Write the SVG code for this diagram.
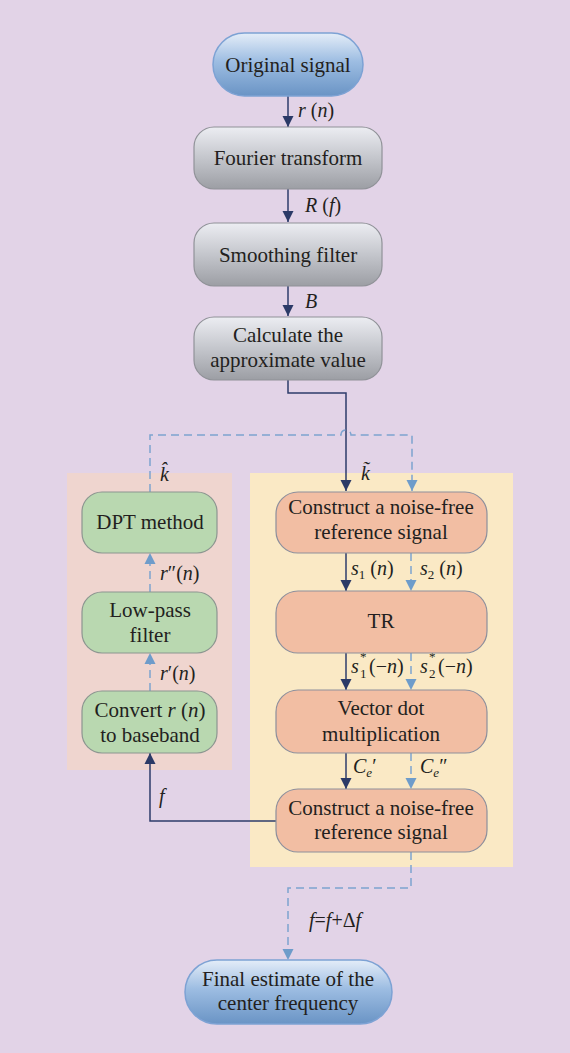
<svg xmlns="http://www.w3.org/2000/svg" width="570" height="1053" viewBox="0 0 570 1053">
<defs>
<linearGradient id="gBlue" x1="0" y1="0" x2="0" y2="1">
<stop offset="0" stop-color="#E4EDF8"/><stop offset="0.45" stop-color="#9DBDE2"/><stop offset="1" stop-color="#6A94C5"/>
</linearGradient>
<linearGradient id="gGray" x1="0" y1="0" x2="0" y2="1">
<stop offset="0" stop-color="#ECEDF2"/><stop offset="0.5" stop-color="#C4C6CC"/><stop offset="1" stop-color="#9C9EA4"/>
</linearGradient>
<marker id="aD" markerUnits="userSpaceOnUse" markerWidth="12" markerHeight="12" viewBox="0 0 12 12" refX="11" refY="6" orient="auto">
<path d="M0,0.5 L11,6 L0,11.5 Z" fill="#2B3A67"/>
</marker>
<marker id="aL" markerUnits="userSpaceOnUse" markerWidth="12" markerHeight="12" viewBox="0 0 12 12" refX="11" refY="6" orient="auto">
<path d="M0,0.5 L11,6 L0,11.5 Z" fill="#6E9CCA"/>
</marker>
<style>
.t{font-family:"Liberation Serif","Times New Roman",serif;font-size:21px;fill:#231F20;text-anchor:middle}
.l{font-family:"Liberation Serif","Times New Roman",serif;font-size:20px;fill:#231F20}
.s{font-family:"Liberation Serif","Times New Roman",serif;font-size:13px;fill:#231F20}
.i{font-style:italic}
.gray{fill:url(#gGray);stroke:#909298;stroke-width:1.2}
.blue{fill:url(#gBlue);stroke:#7DA2D4;stroke-width:1.5}
.green{fill:#B9D8B0;stroke:#8C9590;stroke-width:1.2}
.sal{fill:#F2BEA3;stroke:#8D8F9C;stroke-width:1.2}
.d{fill:none;stroke:#2E3D6B;stroke-width:1.5}
.dl{fill:none;stroke:#7EA4D0;stroke-width:1.5;stroke-dasharray:8 5}
</style>
</defs>
<rect x="0" y="0" width="570" height="1053" fill="#E2D3E7"/>
<rect id="panel-left" x="67" y="473" width="165" height="297" fill="#EFD5CF"/>
<rect id="panel-right" x="250" y="473" width="263" height="394" fill="#FAE9C5"/>

<g id="connectors">
<line class="d" x1="288" y1="96" x2="288" y2="127" marker-end="url(#aD)"/>
<line class="d" x1="288" y1="189" x2="288" y2="222" marker-end="url(#aD)"/>
<line class="d" x1="288" y1="286" x2="288" y2="316" marker-end="url(#aD)"/>
<path class="d" d="M288,380 V393 H346 V491" marker-end="url(#aD)"/>
<path class="dl" d="M150,492 V435 H341 A5,5 0 0 1 351,435 H412 V491" marker-end="url(#aL)"/>
<line class="d" x1="346" y1="553" x2="346" y2="591" marker-end="url(#aD)"/>
<line class="dl" x1="411" y1="553" x2="411" y2="591" marker-end="url(#aL)"/>
<line class="d" x1="346" y1="653" x2="346" y2="690" marker-end="url(#aD)"/>
<line class="dl" x1="411" y1="653" x2="411" y2="690" marker-end="url(#aL)"/>
<line class="d" x1="346" y1="753" x2="346" y2="789" marker-end="url(#aD)"/>
<line class="dl" x1="411" y1="753" x2="411" y2="789" marker-end="url(#aL)"/>
<path class="d" d="M277,821 H150 V753" marker-end="url(#aD)"/>
<line class="dl" x1="150" y1="691" x2="150" y2="653" marker-end="url(#aL)"/>
<line class="dl" x1="150" y1="592" x2="150" y2="553" marker-end="url(#aL)"/>
<path class="dl" d="M411,852 V888 H288 V960" marker-end="url(#aL)"/>
<text class="l" x="298" y="117"><tspan class="i">r</tspan> (<tspan class="i">n</tspan>)</text>
<text class="l" x="305" y="212"><tspan class="i">R</tspan> (<tspan class="i">f</tspan>)</text>
<text class="l i" x="305" y="308">B</text>
<text class="l i" x="160" y="481">k̂</text>
<text class="l i" x="361" y="480">k̃</text>
<text class="l" x="351" y="575"><tspan class="i">s</tspan><tspan font-size="13" dy="4">1</tspan><tspan dy="-4"> (</tspan><tspan class="i">n</tspan>)</text>
<text class="l" x="420" y="575"><tspan class="i">s</tspan><tspan font-size="13" dy="4">2</tspan><tspan dy="-4"> (</tspan><tspan class="i">n</tspan>)</text>
<text class="l i" x="351" y="673">s</text>
<text class="s" x="360" y="678">1</text>
<text class="s" x="360" y="661">*</text>
<text class="l" x="369" y="673">(−<tspan class="i">n</tspan>)</text>
<text class="l i" x="420" y="673">s</text>
<text class="s" x="429" y="678">2</text>
<text class="s" x="429" y="661">*</text>
<text class="l" x="438" y="673">(−<tspan class="i">n</tspan>)</text>
<text class="l" x="353" y="773"><tspan class="i">C</tspan><tspan class="i" font-size="13" dy="4">e</tspan><tspan dy="-4">′</tspan></text>
<text class="l" x="420" y="773"><tspan class="i">C</tspan><tspan class="i" font-size="13" dy="4">e</tspan><tspan dy="-4">″</tspan></text>
<text class="l" x="160" y="580"><tspan class="i">r</tspan>″(<tspan class="i">n</tspan>)</text>
<text class="l" x="160" y="680"><tspan class="i">r</tspan>′(<tspan class="i">n</tspan>)</text>
<text class="l i" x="159" y="803">f</text>
<text class="l" x="309" y="927"><tspan class="i">f</tspan>=<tspan class="i">f</tspan>+Δ<tspan class="i">f</tspan></text>
</g>

<g id="n-original"><rect class="blue" x="213" y="33" width="150" height="63" rx="31.5"/><text class="t" x="288" y="72">Original signal</text></g>
<g id="n-fourier"><rect class="gray" x="194" y="127" width="188" height="62" rx="20"/><text class="t" x="288" y="165">Fourier transform</text></g>
<g id="n-smooth"><rect class="gray" x="194" y="223" width="188" height="63" rx="20"/><text class="t" x="288" y="262">Smoothing filter</text></g>
<g id="n-calc"><rect class="gray" x="194" y="317" width="188" height="63" rx="20"/><text class="t" x="288" y="342">Calculate the</text><text class="t" x="288" y="367">approximate value</text></g>

<g id="n-dpt"><rect class="green" x="82" y="492" width="135" height="61" rx="20"/><text class="t" x="150" y="529">DPT method</text></g>
<g id="n-lowpass"><rect class="green" x="82" y="592" width="135" height="61" rx="20"/><text class="t" x="150" y="617">Low-pass</text><text class="t" x="150" y="642">filter</text></g>
<g id="n-convert"><rect class="green" x="82" y="691" width="135" height="62" rx="20"/><text class="t" x="150" y="717">Convert <tspan class="i">r</tspan> (<tspan class="i">n</tspan>)</text><text class="t" x="150" y="742">to baseband</text></g>

<g id="n-construct1"><rect class="sal" x="276" y="492" width="211" height="61" rx="22"/><text class="t" x="381" y="514">Construct a noise-free</text><text class="t" x="381" y="539">reference signal</text></g>
<g id="n-tr"><rect class="sal" x="276" y="591" width="211" height="62" rx="22"/><text class="t" x="381" y="628">TR</text></g>
<g id="n-vector"><rect class="sal" x="276" y="690" width="211" height="63" rx="22"/><text class="t" x="381" y="715">Vector dot</text><text class="t" x="381" y="741">multiplication</text></g>
<g id="n-construct2"><rect class="sal" x="276" y="789" width="211" height="63" rx="22"/><text class="t" x="381" y="815">Construct a noise-free</text><text class="t" x="381" y="839">reference signal</text></g>

<g id="n-final"><rect class="blue" x="185" y="960" width="207" height="64" rx="32"/><text class="t" x="288" y="986">Final estimate of the</text><text class="t" x="288" y="1010">center frequency</text></g>
</svg>
